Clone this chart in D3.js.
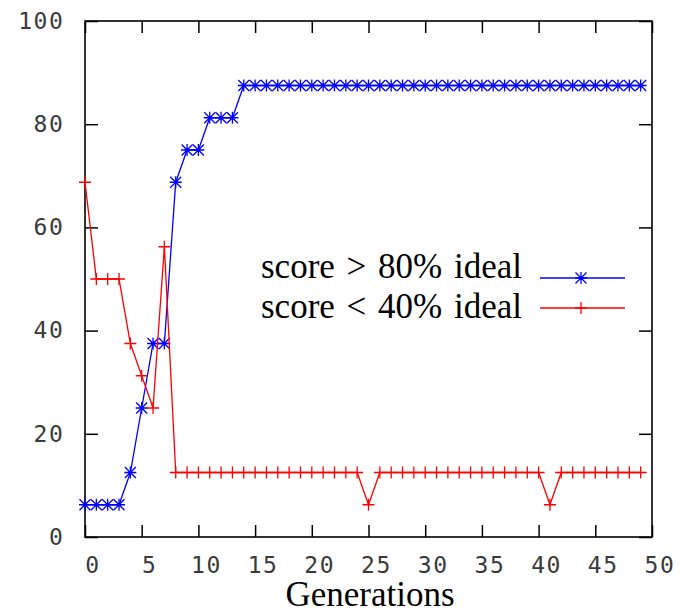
<!DOCTYPE html>
<html>
<head>
<meta charset="utf-8">
<script src="https://cdn.jsdelivr.net/npm/d3@7"></script>
<style>
  body { margin: 0; background: #fff; }
  svg { display: block; }
</style>
</head>
<body>
<script>
// generation index along the x axis
var generations = [0,1,2,3,4,5,6,7,8,9,10,11,12,13,14,15,16,17,18,19,20,21,22,23,24,
                   25,26,27,28,29,30,31,32,33,34,35,36,37,38,39,40,41,42,43,44,45,46,47,48,49];

// % of population with score > 80% of ideal
var highScore = [6.25,6.25,6.25,6.25,12.5,25,37.5,37.5,68.75,75,75,81.25,81.25,81.25,
                 87.5,87.5,87.5,87.5,87.5,87.5,87.5,87.5,87.5,87.5,87.5,87.5,87.5,87.5,87.5,87.5,
                 87.5,87.5,87.5,87.5,87.5,87.5,87.5,87.5,87.5,87.5,87.5,87.5,87.5,87.5,87.5,87.5,
                 87.5,87.5,87.5,87.5];

// % of population with score < 40% of ideal
var lowScore = [68.75,50,50,50,37.5,31.25,25,56.25,
                12.5,12.5,12.5,12.5,12.5,12.5,12.5,12.5,12.5,12.5,12.5,12.5,12.5,12.5,12.5,12.5,12.5,
                6.25,
                12.5,12.5,12.5,12.5,12.5,12.5,12.5,12.5,12.5,12.5,12.5,12.5,12.5,12.5,12.5,
                6.25,
                12.5,12.5,12.5,12.5,12.5,12.5,12.5,12.5];

var xTicks = [0,5,10,15,20,25,30,35,40,45,50];
var yTicks = [0,20,40,60,80,100];
var seriesNames = ["score > 80% ideal", "score < 40% ideal"];

var width = 693, height = 613;
var plotLeft = 85, plotRight = 652, plotTop = 21, plotBottom = 537;

var svg = d3.select("body").append("svg")
    .attr("width", width).attr("height", height);

svg.append("rect").attr("width", width).attr("height", height).attr("fill", "#fff");

var x = d3.scaleLinear().domain([0, 50]).range([plotLeft, plotRight]);
var y = d3.scaleLinear().domain([0, 100]).range([plotBottom, plotTop]);

function styleAxis(g) {
    g.select(".domain").remove();
    g.selectAll(".tick line").attr("stroke", "#000").attr("stroke-width", 1.5);
    g.selectAll(".tick text")
        .attr("fill", "#3a3a3a")
        .style("font-family", "'DejaVu Sans Mono', monospace")
        .style("font-size", "23px")
        .style("letter-spacing", "1.6px");
}

// bottom axis, ticks inward
svg.append("g")
    .attr("transform", "translate(0," + plotBottom + ")")
    .call(d3.axisBottom(x).tickValues(xTicks).tickSize(-12).tickPadding(20))
    .call(styleAxis)
    .selectAll(".tick text").attr("dx", 7.5);

// top mirror ticks
svg.append("g")
    .attr("transform", "translate(0," + plotTop + ")")
    .call(d3.axisTop(x).tickValues(xTicks).tickSize(-12).tickFormat(""))
    .call(styleAxis);

// left axis
svg.append("g")
    .attr("transform", "translate(" + plotLeft + ",0)")
    .call(d3.axisLeft(y).tickValues(yTicks).tickSize(-13).tickPadding(20.5))
    .call(styleAxis);

// right mirror ticks
svg.append("g")
    .attr("transform", "translate(" + plotRight + ",0)")
    .call(d3.axisRight(y).tickValues(yTicks).tickSize(-13).tickFormat(""))
    .call(styleAxis);

// frame
svg.append("rect")
    .attr("x", plotLeft).attr("y", plotTop)
    .attr("width", plotRight - plotLeft).attr("height", plotBottom - plotTop)
    .attr("fill", "none").attr("stroke", "#000").attr("stroke-width", 1.6);

function asterisk(cx, cy) {
    var a = 6, b = 5.5;
    return "M" + (cx - a) + "," + cy + "h" + (2 * a) +
           "M" + cx + "," + (cy - a) + "v" + (2 * a) +
           "M" + (cx - b) + "," + (cy - b) + "l" + (2 * b) + "," + (2 * b) +
           "M" + (cx - b) + "," + (cy + b) + "l" + (2 * b) + "," + (-2 * b);
}
function plus(cx, cy) {
    var a = 6;
    return "M" + (cx - a) + "," + cy + "h" + (2 * a) +
           "M" + cx + "," + (cy - a) + "v" + (2 * a);
}

var line = d3.line()
    .x(function(d) { return x(d[0]); })
    .y(function(d) { return y(d[1]); });

var highData = generations.map(function(g, i) { return [g, highScore[i]]; });
var lowData = generations.map(function(g, i) { return [g, lowScore[i]]; });

var series = [
    { name: seriesNames[0], data: highData, color: "#0000ff", marker: asterisk, dot: true },
    { name: seriesNames[1], data: lowData, color: "#ff0000", marker: plus, dot: false }
];

series.forEach(function(s) {
    var g = svg.append("g");
    g.append("path")
        .attr("d", line(s.data))
        .attr("fill", "none")
        .attr("stroke", s.color)
        .attr("stroke-width", 1.3);
    g.selectAll("path.pt")
        .data(s.data)
        .enter().append("path")
        .attr("class", "pt")
        .attr("d", function(d) { return s.marker(x(d[0]), y(d[1])); })
        .attr("fill", "none")
        .attr("stroke", s.color)
        .attr("stroke-width", 1.3);
    if (s.dot) {
        g.selectAll("circle")
            .data(s.data)
            .enter().append("circle")
            .attr("cx", function(d) { return x(d[0]); })
            .attr("cy", function(d) { return y(d[1]); })
            .attr("r", 1.8)
            .attr("fill", s.color);
    }
});

// legend
var legendRows = [278, 308];
var textRows = [278, 318];
series.forEach(function(s, i) {
    svg.append("text")
        .attr("x", 522).attr("y", textRows[i])
        .attr("text-anchor", "end")
        .style("font-family", "'Liberation Serif', 'Times New Roman', serif")
        .style("font-size", "35px")
        .style("word-spacing", "3px")
        .attr("fill", "#000")
        .text(s.name);
    svg.append("line")
        .attr("x1", 540).attr("x2", 625)
        .attr("y1", legendRows[i]).attr("y2", legendRows[i])
        .attr("stroke", s.color).attr("stroke-width", 1.3);
    svg.append("path")
        .attr("d", s.marker(581, legendRows[i]))
        .attr("fill", "none").attr("stroke", s.color).attr("stroke-width", 1.3);
    if (s.dot) {
        svg.append("circle").attr("cx", 581).attr("cy", legendRows[i])
            .attr("r", 1.8).attr("fill", s.color);
    }
});

// x axis title
svg.append("text")
    .attr("x", 370).attr("y", 606)
    .attr("text-anchor", "middle")
    .style("font-family", "'Liberation Serif', 'Times New Roman', serif")
    .style("font-size", "35px")
    .attr("fill", "#000")
    .text("Generations");
</script>
</body>
</html>
